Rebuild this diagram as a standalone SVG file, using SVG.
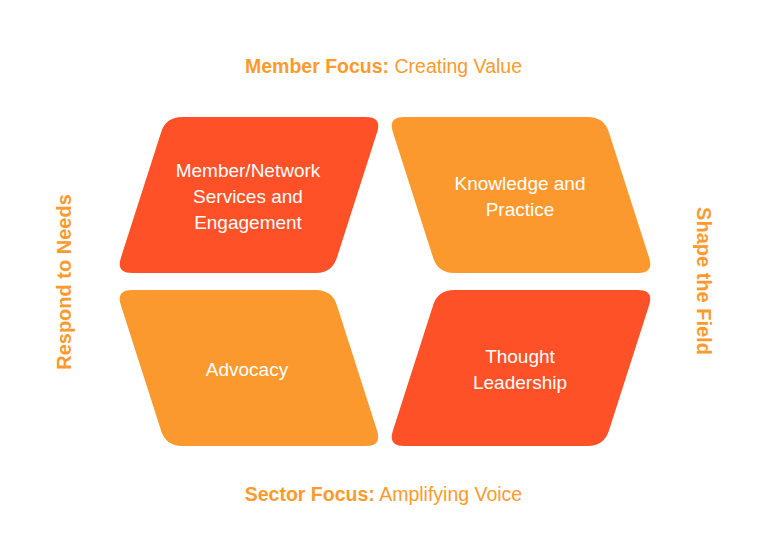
<svg xmlns="http://www.w3.org/2000/svg" width="784" height="546" viewBox="0 0 784 546">
<defs>
<style>
.red{fill:#FE5127}
.orn{fill:#FC992E}
.lbl{font-family:"Liberation Sans",Arial,Helvetica,sans-serif;font-size:19px;fill:#FFFFFF;text-anchor:middle}
.ax{font-family:"Liberation Sans",Arial,Helvetica,sans-serif;font-size:19.5px;fill:#FC9A2E;text-anchor:middle}
.vt{font-size:20px}
.b{font-weight:bold}
</style>
<path id="lean-r" d="M 66,0 L 250,0 Q 266,0 261.12,15.24 L 220.88,140.76 Q 216,156 200,156 L 16,156 Q 0,156 4.88,140.76 L 45.12,15.24 Q 50,0 66,0 Z"/>
<path id="lean-l" d="M 16,0 L 200,0 Q 216,0 220.88,15.24 L 261.12,140.76 Q 266,156 250,156 L 66,156 Q 50,156 45.12,140.76 L 4.88,15.24 Q 0,0 16,0 Z"/>
</defs>
<rect width="784" height="546" fill="#FFFFFF"/>
<g id="connectors"/>
<g id="member-network">
<use href="#lean-r" class="red" x="116" y="117"/>
<text class="lbl" x="248" y="177">Member/Network</text>
<text class="lbl" x="248" y="203">Services and</text>
<text class="lbl" x="248" y="229">Engagement</text>
</g>
<g id="knowledge">
<use href="#lean-l" class="orn" x="388" y="117"/>
<text class="lbl" x="520" y="190">Knowledge and</text>
<text class="lbl" x="520" y="216">Practice</text>
</g>
<g id="advocacy">
<use href="#lean-l" class="orn" x="116" y="290"/>
<text class="lbl" x="247" y="376">Advocacy</text>
</g>
<g id="thought-leadership">
<use href="#lean-r" class="red" x="388" y="290"/>
<text class="lbl" x="520" y="363">Thought</text>
<text class="lbl" x="520" y="389">Leadership</text>
</g>
<g id="axis-labels">
<text class="ax" x="383.5" y="73"><tspan class="b">Member Focus:</tspan> Creating Value</text>
<text class="ax" x="383.5" y="501"><tspan class="b">Sector Focus:</tspan> Amplifying Voice</text>
<text class="ax vt b" transform="translate(71,282) rotate(-90)">Respond to Needs</text>
<text class="ax vt b" transform="translate(697,281) rotate(90)">Shape the Field</text>
</g>
</svg>
